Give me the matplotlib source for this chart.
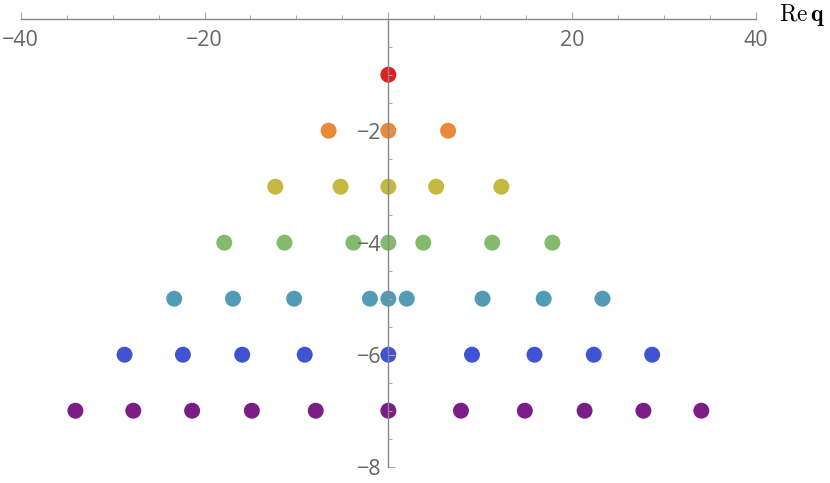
import matplotlib
matplotlib.use("Agg")
import matplotlib.pyplot as plt
from matplotlib.ticker import MultipleLocator, FuncFormatter

# real parts of q for each level (Im q = -1 ... -7)
im_levels = [-1, -2, -3, -4, -5, -6, -7]
re_q1 = [0]
re_q2 = [-6.5, 0, 6.5]
re_q3 = [-12.3, -5.2, 0, 5.2, 12.3]
re_q4 = [-17.85, -11.3, -3.8, 0, 3.8, 11.3, 17.85]
re_q5 = [-23.3, -16.9, -10.25, -2.0, 0, 2.0, 10.25, 16.9, 23.3]
re_q6 = [-28.7, -22.35, -15.9, -9.1, 0, 9.1, 15.9, 22.35, 28.7]
re_q7 = [-34.05, -27.75, -21.35, -14.85, -7.9, 0, 7.9, 14.85, 21.35, 27.75, 34.05]
rows = [re_q1, re_q2, re_q3, re_q4, re_q5, re_q6, re_q7]
colors = ["#DE2020", "#E88A3A", "#C4B840", "#84BA6B", "#529BB5", "#4053D3", "#7A1E86"]

plt.rcParams["mathtext.fontset"] = "cm"

fig = plt.figure(figsize=(8.3, 4.83), dpi=100)
ax = fig.add_axes([20.7 / 830, 1 - 466.7 / 483, 735.3 / 830, 448 / 483])

for im, xs, c in zip(im_levels, rows, colors):
    ax.scatter(xs, [im] * len(xs), s=132, color=c, edgecolors="none", zorder=1)

ax.set_xlim(-40, 40)
ax.set_ylim(-8, 0)
ax.set_axisbelow(False)
ax.spines["right"].set_visible(False)
ax.spines["top"].set_visible(False)
ax.spines["left"].set_position(("data", 0))
ax.spines["bottom"].set_position(("data", 0))
for sp in ["left", "bottom"]:
    ax.spines[sp].set_color("#888888")
    ax.spines[sp].set_linewidth(1.0)
    ax.spines[sp].set_zorder(3)

ax.xaxis.set_major_locator(MultipleLocator(20))
ax.xaxis.set_minor_locator(MultipleLocator(5))
ax.yaxis.set_major_locator(MultipleLocator(2))
ax.yaxis.set_minor_locator(MultipleLocator(0.5))

fmt = FuncFormatter(lambda v, p: "" if v == 0 else ("\u2212%d" % abs(v) if v < 0 else "%d" % v))
ax.xaxis.set_major_formatter(fmt)
ax.yaxis.set_major_formatter(fmt)

ax.tick_params(axis="x", which="major", direction="in", length=5, width=0.8,
               color="#AAAAAA", labelcolor="#666666", labelsize=15.5, pad=8)
ax.tick_params(axis="x", which="minor", direction="in", length=3, width=0.7, color="#AAAAAA")
ax.tick_params(axis="y", which="major", direction="in", length=5, width=0.8,
               color="#AAAAAA", labelcolor="#666666", labelsize=15.5, pad=5)
ax.tick_params(axis="y", which="minor", direction="in", length=3, width=0.7, color="#AAAAAA")
for lab in ax.get_xticklabels() + ax.get_yticklabels():
    lab.set_fontfamily("Open Sans")
    lab.set_zorder(4)

fig.text(779 / 830, 1 - 20.7 / 483, r"$\mathrm{Re}\,\mathbf{q}$", fontsize=17,
         ha="left", va="baseline", color="black")

fig.savefig("out.png", dpi=100)
